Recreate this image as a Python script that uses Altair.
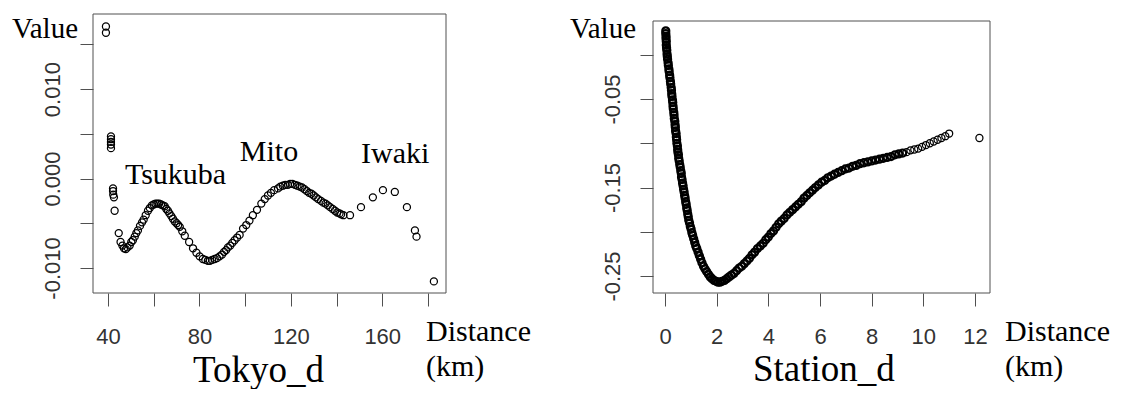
import altair as alt
import pandas as pd

# ---------------- data ----------------
tokyo_d = [
    39.1, 39.1, 41.3, 41.3, 41.3, 41.3, 41.3, 42.2, 42.2, 42.3,
    42.6, 42.9, 44.7, 45.5, 46.3, 47.0, 47.8, 48.5, 49.5, 50.2,
    50.9, 51.7, 52.4, 53.1, 54.0, 54.9, 55.6, 56.5, 57.5, 58.3,
    59.2, 60.0, 60.8, 61.6, 62.4, 63.2, 64.0, 64.8, 65.5, 66.2,
    66.9, 67.7, 68.4, 69.2, 70.0, 70.7, 71.4, 72.5, 73.6, 75.5,
    77.2, 78.7, 80.1, 81.5, 82.6, 83.7, 84.6, 85.6, 86.7, 87.7,
    88.8, 89.9, 90.8, 91.7, 92.5, 93.5, 94.4, 95.4, 96.5, 97.6,
    99.1, 100.5, 101.9, 103.4, 105.2, 107.1, 108.6, 110.0, 111.3, 112.7,
    114.4, 115.4, 116.5, 117.6, 118.7, 119.7, 120.7, 121.8, 122.9, 123.9,
    124.9, 126.0, 127.0, 128.0, 129.0, 130.0, 131.0, 132.0, 133.2, 134.2,
    135.2, 136.2, 137.2, 138.3, 139.3, 140.3, 141.3, 142.0, 143.0, 145.9,
    150.7, 155.9, 160.3, 165.5, 170.8, 174.3, 175.0, 182.6,
]
tokyo_val = [
    0.0170, 0.0163, 0.0047, 0.0044, 0.0041, 0.0038, 0.0034, -0.0011, -0.0014, -0.0018,
    -0.0021, -0.0036, -0.0061, -0.0071, -0.0075, -0.0078, -0.0079, -0.0077, -0.0075, -0.0071,
    -0.0069, -0.0065, -0.0061, -0.0058, -0.0053, -0.0049, -0.0046, -0.0041, -0.0036, -0.0033,
    -0.0030, -0.0029, -0.0028, -0.0028, -0.0028, -0.0029, -0.0030, -0.0031, -0.0034, -0.0036,
    -0.0039, -0.0042, -0.0045, -0.0048, -0.0050, -0.0052, -0.0054, -0.0059, -0.0064, -0.0071,
    -0.0078, -0.0083, -0.0087, -0.0090, -0.0091, -0.0092, -0.0092, -0.0091, -0.0090, -0.0089,
    -0.0087, -0.0085, -0.0082, -0.0080, -0.0077, -0.0075, -0.0072, -0.0069, -0.0066, -0.0063,
    -0.0056, -0.0052, -0.0047, -0.0041, -0.0035, -0.0028, -0.0023, -0.0019, -0.0016, -0.0013,
    -0.0011, -0.0009, -0.0008, -0.0007, -0.0007, -0.0006, -0.0006, -0.0007, -0.0008, -0.0009,
    -0.0010, -0.0012, -0.0014, -0.0016, -0.0017, -0.0019, -0.0021, -0.0023, -0.0025, -0.0027,
    -0.0028, -0.0030, -0.0032, -0.0034, -0.0036, -0.0038, -0.0039, -0.0040, -0.0041, -0.0041,
    -0.0032, -0.0021, -0.0013, -0.0015, -0.0032, -0.0058, -0.0065, -0.0115,
]

station_d = [
    0.03, 0.03, 0.04, 0.04, 0.05, 0.05, 0.06, 0.07, 0.08, 0.09,
    0.10, 0.12, 0.13, 0.15, 0.16, 0.18, 0.19, 0.21, 0.22, 0.24,
    0.25, 0.26, 0.27, 0.29, 0.30, 0.31, 0.32, 0.34, 0.35, 0.36,
    0.38, 0.39, 0.40, 0.41, 0.43, 0.44, 0.45, 0.46, 0.48, 0.49,
    0.50, 0.52, 0.53, 0.55, 0.57, 0.59, 0.61, 0.63, 0.64, 0.66,
    0.68, 0.70, 0.72, 0.74, 0.76, 0.78, 0.80, 0.82, 0.84, 0.86,
    0.88, 0.90, 0.92, 0.95, 0.98, 1.01, 1.04, 1.07, 1.11, 1.15,
    1.19, 1.23, 1.28, 1.33, 1.38, 1.43, 1.49, 1.55, 1.61, 1.68,
    1.75, 1.82, 1.90, 1.98, 2.05, 2.13, 2.21, 2.30, 2.39, 2.48,
    2.57, 2.67, 2.77, 2.87, 2.97, 3.07, 3.17, 3.27, 3.37, 3.47,
    3.58, 3.69, 3.80, 3.90, 4.00, 4.10, 4.20, 4.30, 4.40, 4.50,
    4.61, 4.72, 4.83, 4.94, 5.05, 5.16, 5.27, 5.38, 5.49, 5.60,
    5.71, 5.82, 5.94, 6.06, 6.18, 6.30, 6.43, 6.56, 6.70, 6.84,
    6.98, 7.12, 7.26, 7.40, 7.55, 7.70, 7.85, 8.00, 8.15, 8.30,
    8.45, 8.60, 8.75, 8.90, 9.05, 9.20, 9.35, 9.50, 9.65, 9.80,
    9.95, 10.10, 10.25, 10.40, 10.55, 10.70, 10.85, 11.00, 12.17,
]
station_val = [
    0.027, 0.024, 0.021, 0.018, 0.015, 0.011, 0.008, 0.005, 0.001, -0.002,
    -0.005, -0.009, -0.012, -0.016, -0.019, -0.023, -0.026, -0.030, -0.033, -0.037,
    -0.040, -0.044, -0.047, -0.051, -0.054, -0.058, -0.061, -0.065, -0.068, -0.072,
    -0.075, -0.079, -0.082, -0.086, -0.089, -0.093, -0.096, -0.100, -0.103, -0.107,
    -0.110, -0.113, -0.117, -0.120, -0.124, -0.127, -0.131, -0.134, -0.138, -0.141,
    -0.145, -0.148, -0.152, -0.155, -0.159, -0.162, -0.166, -0.169, -0.173, -0.176,
    -0.180, -0.183, -0.187, -0.190, -0.194, -0.197, -0.201, -0.204, -0.208, -0.212,
    -0.216, -0.219, -0.223, -0.227, -0.231, -0.235, -0.239, -0.242, -0.245, -0.248,
    -0.251, -0.253, -0.255, -0.256, -0.257, -0.257, -0.256, -0.255, -0.253, -0.251,
    -0.249, -0.247, -0.244, -0.241, -0.239, -0.236, -0.233, -0.230, -0.226, -0.223,
    -0.219, -0.216, -0.213, -0.209, -0.206, -0.202, -0.199, -0.195, -0.191, -0.188,
    -0.185, -0.181, -0.178, -0.175, -0.172, -0.169, -0.166, -0.162, -0.159, -0.156,
    -0.153, -0.150, -0.147, -0.144, -0.142, -0.139, -0.137, -0.135, -0.133, -0.131,
    -0.129, -0.128, -0.126, -0.125, -0.123, -0.122, -0.121, -0.120, -0.119, -0.118,
    -0.117, -0.116, -0.115, -0.113, -0.112, -0.111, -0.110, -0.108, -0.107, -0.106,
    -0.104, -0.102, -0.100, -0.098, -0.096, -0.094, -0.092, -0.089, -0.094,
]

tokyo_x_ticks = [40, 60, 80, 100, 120, 140, 160, 180]
tokyo_y_ticks = [-0.010, -0.005, 0.000, 0.005, 0.010, 0.015]
station_x_ticks = [0, 2, 4, 6, 8, 10, 12]
station_y_ticks = [0.00, -0.05, -0.10, -0.15, -0.20, -0.25]

places = ["Tsukuba", "Mito", "Iwaki"]
place_d = [47.4, 97.7, 150.7]
place_val = [-0.00056, 0.0020, 0.0017]

tokyo_title = "Tokyo_d"
station_title = "Station_d"
y_label = "Value"
x_label_1 = "Distance"
x_label_2 = "(km)"

# ---------------- styling ----------------
SERIF = "Liberation Serif"
SANS = "Liberation Sans"
INK = "#505050"
LABEL = "#333333"
LW, LH = 353, 279
RW, RH = 337, 279

tokyo_df = pd.DataFrame({"d": tokyo_d, "v": tokyo_val})
station_df = pd.DataFrame({"d": station_d, "v": station_val})
place_df = pd.DataFrame({"d": place_d, "v": place_val, "name": places})
one = pd.DataFrame({"k": [0]})


def x_axis(values, expr):
    return alt.Axis(values=values, labelExpr=expr, domain=False, grid=False,
                    tickSize=13, tickColor=INK, tickWidth=1,
                    labelFont=SANS, labelFontSize=22, labelColor=LABEL,
                    labelPadding=20, labelFlush=False, labelOverlap=False,
                    title=None)


def y_axis(values, expr):
    return alt.Axis(values=values, labelExpr=expr, domain=False, grid=False,
                    tickSize=13, tickColor=INK, tickWidth=1,
                    labelFont=SANS, labelFontSize=22, labelColor=LABEL,
                    labelAngle=270, labelAlign="center", labelBaseline="bottom",
                    labelPadding=16, labelFlush=False, labelOverlap=False,
                    title=None)


def txt(text, x, y, size, align="left"):
    return alt.Chart(one).mark_text(
        text=text, font=SERIF, fontSize=size, align=align,
        baseline="alphabetic", color="black"
    ).encode(x=alt.value(x), y=alt.value(y))


def frame(w, y0, h):
    return alt.Chart(one).mark_rect(fillOpacity=0, stroke=INK, strokeWidth=1).encode(
        x=alt.value(0), x2=alt.value(w), y=alt.value(y0), y2=alt.value(h))


# ---------------- left panel ----------------
lx = alt.X("d:Q", scale=alt.Scale(domain=[33.44, 187.9], nice=False, zero=False),
           axis=x_axis(tokyo_x_ticks, "datum.value % 40 == 0 ? datum.label : ''"))
ly = alt.Y("v:Q", scale=alt.Scale(domain=[-0.0128, 0.0184], nice=False, zero=False),
           axis=y_axis(tokyo_y_ticks,
                       "datum.value < -0.0075 ? '-0.010' : (abs(datum.value) < 0.001 ? '0.000' : "
                       "((datum.value > 0.0075 && datum.value < 0.0125) ? '0.010' : ''))"))

left_pts = alt.Chart(tokyo_df).mark_point(
    shape="circle", filled=False, size=50, color="black", strokeWidth=1.25, opacity=1
).encode(x=lx, y=ly)

left_places = alt.Chart(place_df).mark_text(
    font=SERIF, fontSize=30, align="left", baseline="alphabetic", color="black"
).encode(x=lx, y=ly, text="name:N")

left = alt.layer(
    frame(LW, 0, LH),
    left_pts,
    left_places,
    txt(y_label, -15, 24, 29, "right"),
    txt(x_label_1, 333, 327, 30),
    txt(x_label_2, 333, 362, 30),
    txt(tokyo_title, 100, 368, 37),
).properties(width=LW, height=LH)

# ---------------- right panel ----------------
rx = alt.X("d:Q", scale=alt.Scale(domain=[-0.4645, 12.58], nice=False, zero=False),
           axis=x_axis(station_x_ticks, "datum.label"))
ry = alt.Y("v:Q", scale=alt.Scale(domain=[-0.2692, 0.0461], nice=False, zero=False),
           axis=y_axis(station_y_ticks,
                       "abs(datum.value + 0.05) < 0.001 ? '-0.05' : (abs(datum.value + 0.15) < 0.001 ? '-0.15' : "
                       "(abs(datum.value + 0.25) < 0.001 ? '-0.25' : ''))"))

right_pts = alt.Chart(station_df).mark_point(
    shape="circle", filled=False, size=50, color="black", opacity=1
).encode(
    x=rx, y=ry,
    strokeWidth=alt.condition("datum.d < 9.3", alt.value(2.2), alt.value(1.25)),
)

right = alt.layer(
    frame(RW, 7, RH),
    right_pts,
    txt(y_label, -17, 24, 29, "right"),
    txt(x_label_1, 352, 327, 30),
    txt(x_label_2, 352, 362, 30),
    txt(station_title, 100, 367, 37),
).properties(width=RW, height=RH)

chart = alt.hconcat(left, right, spacing=207, bounds="flush").properties(
    padding={"left": 3, "top": 5, "right": 0, "bottom": 0},
    background="white",
).configure_view(strokeWidth=0)

chart.save("out.html", embed_options={"renderer": "svg", "actions": False})
